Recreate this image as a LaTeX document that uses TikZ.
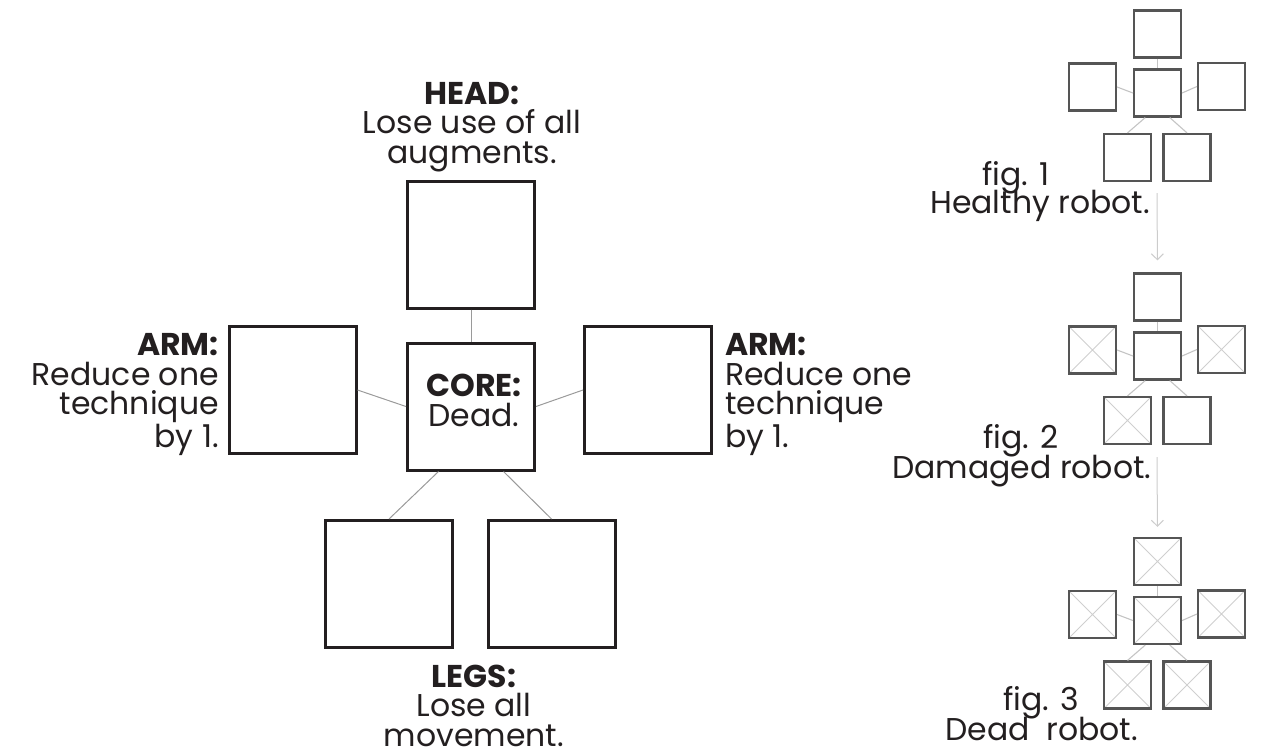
\documentclass[tikz,border=0pt]{standalone}
\usepackage{fontspec}
\setmainfont{Poppins}
\usetikzlibrary{calc,arrows.meta}
\definecolor{ink}{HTML}{231F20}
\definecolor{boxgray}{HTML}{555555}
\definecolor{linkgray}{HTML}{9A9A9A}
\definecolor{slinkgray}{HTML}{C4C4C4}
\definecolor{crossgray}{HTML}{CFCFCF}
\definecolor{flowgray}{HTML}{CCCCCC}
\tikzset{
  bigbox/.style={draw=ink, line width=3pt, minimum size=127pt, inner sep=0pt},
  link/.style={draw=linkgray, line width=1pt},
  sbox/.style={draw=boxgray, line width=2.2pt, minimum size=47pt, inner sep=0pt},
  crossed/.style={path picture={\draw[crossgray, line width=0.9pt]
     (path picture bounding box.north west) -- (path picture bounding box.south east)
     (path picture bounding box.north east) -- (path picture bounding box.south west);}},
  plain/.style={},
  slink/.style={draw=slinkgray, line width=1.1pt},
  flow/.style={draw=flowgray, line width=1pt, -{Straight Barb[length=6pt,width=12pt]}},
  lbl/.style={font=\fontsize{31.5}{29.5}\selectfont, text=ink, inner sep=0pt},
}
\newcommand{\minibot}[8]{%
  \node[sbox,#3] (#1h) at (1157.5,#2-59) {};
  \node[sbox,#6] (#1c) at (1157.5,#2) {};
  \node[sbox,#4] (#1la) at (1092.5,#2-6) {};
  \node[sbox,#5] (#1ra) at (1221.5,#2-6.5) {};
  \node[sbox,#7] (#1ll) at (1127.5,#2+64.5) {};
  \node[sbox,#8] (#1rl) at (1187,#2+64.5) {};
  \draw[slink] (#1h.south) -- (#1c.north);
  \draw[slink] (#1la.east) -- (#1c.west);
  \draw[slink] (#1c.east) -- (#1ra.west);
  \draw[slink] ($(#1c.south)!0.5!(#1c.south west)$) -- (#1ll.north);
  \draw[slink] ($(#1c.south)!0.5!(#1c.south east)$) -- (#1rl.north);
}
\begin{document}
\begin{tikzpicture}[x=1pt,y=-1pt]
\useasboundingbox (0,0) rectangle (1261,750);
% main robot
\node[bigbox] (head) at (471,244.5) {};
\node[bigbox] (core) at (471,406.5) {};
\node[bigbox] (larm) at (292.5,390) {};
\node[bigbox] (rarm) at (648,390) {};
\node[bigbox] (lleg) at (389,584) {};
\node[bigbox] (rleg) at (551.5,584) {};
\draw[link] (head.south) -- (core.north);
\draw[link] (larm.east) -- (core.west);
\draw[link] (core.east) -- (rarm.west);
\draw[link] ($(core.south)!0.5!(core.south west)$) -- (lleg.north);
\draw[link] ($(core.south)!0.5!(core.south east)$) -- (rleg.north);
% main labels (anchor base = baseline of last line)
\node[lbl, align=center, anchor=base] (headtxt) at (472,163) {\textbf{HEAD:}\\Lose use of all\\augments.};
\node[lbl, align=center, anchor=base] (coretxt) at (474,426) {\textbf{CORE:}\\Dead.};
\node[lbl, align=center, anchor=base] (legstxt) at (474,746) {\textbf{LEGS:}\\Lose all\\movement.};
\node[lbl, align=right, anchor=base east] (larmtxt) at (219,447) {\textbf{ARM:}\\Reduce one\\technique\\by 1.};
\node[lbl, align=left, anchor=base west] (rarmtxt) at (725,447) {\textbf{ARM:}\\Reduce one\\technique\\by 1.};
% small robots
\minibot{fa}{93}{plain}{plain}{plain}{plain}{plain}{plain}
\minibot{fb}{356}{plain}{crossed}{crossed}{plain}{crossed}{plain}
\minibot{fc}{620.5}{crossed}{crossed}{crossed}{crossed}{crossed}{crossed}
% small labels
\node[lbl, anchor=base west] (f1n) at (982,185) {fig. 1};
\node[lbl, anchor=base west] (f1t) at (930,213) {Healthy robot.};
\node[lbl, anchor=base west] (f2n) at (983,448) {fig. 2};
\node[lbl, anchor=base west] (f2t) at (892,478) {Damaged robot.};
\node[lbl, anchor=base west] (f3n) at (1003,710) {fig. 3};
\node[lbl, anchor=base west] (f3t) at (945,740) {Dead\ \ robot.};
% flow arrows
\coordinate (a1) at (1157,193);
\coordinate (a2) at (1157,457);
\draw[flow, shorten >=12pt] (a1) -- (fbh.north);
\draw[flow, shorten >=10pt] (a2) -- (fch.north);
\end{tikzpicture}
\end{document}
